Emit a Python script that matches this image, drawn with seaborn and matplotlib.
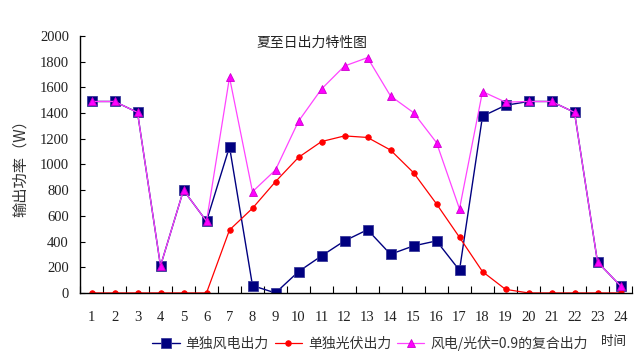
import matplotlib
matplotlib.use("Agg")
import matplotlib.pyplot as plt
import seaborn as sns
import pandas as pd
import numpy as np
from matplotlib.ticker import FixedLocator, NullFormatter

hours = list(range(1, 25))
wind = [1490, 1490, 1405, 210, 800, 558, 1138, 57, 0, 166, 288, 405, 492, 301, 366, 405, 176, 1375, 1460, 1490, 1490, 1405, 241, 55]
solar = [0, 0, 0, 0, 0, 0, 490, 659, 866, 1055, 1178, 1222, 1210, 1112, 936, 693, 433, 166, 28, 0, 0, 0, 0, 0]
combined = [1490, 1490, 1405, 210, 800, 558, 1678, 788, 957, 1336, 1587, 1766, 1831, 1533, 1403, 1170, 654, 1567, 1485, 1490, 1490, 1405, 241, 55]
names = ["单独风电出力", "单独光伏出力", "风电/光伏=0.9的复合出力"]
title = "夏至日出力特性图"
ylabel = "输出功率（W）"
xlabel = "时间"

sns.set_theme(style="white")
plt.rcParams['font.family'] = ['Noto Sans CJK SC', 'DejaVu Sans']

fig = plt.figure(figsize=(6.4, 3.63), dpi=100)
ax = fig.add_axes([0.125, 0.193, 0.8625, 0.708])

df = pd.DataFrame({"hour": hours * 3,
                   "value": wind + solar + combined,
                   "series": [names[0]] * 24 + [names[1]] * 24 + [names[2]] * 24})

styles = [
    dict(color="#000080", marker="s", ms=6.5, mfc="#000080", mec="#3a3a9a", lw=1.0),
    dict(color="#FF0000", marker="o", ms=4, mfc="#FF0000", mec="#FF0000", lw=0.9),
    dict(color="#FF44FF", marker="^", ms=5.5, mfc="#FF00FF", mec="#CC00CC", lw=0.9),
]
for name, st in zip(names, styles):
    sub = df[df["series"] == name]
    sns.lineplot(data=sub, x="hour", y="value", ax=ax, label=name,
                 color=st["color"], marker=st["marker"], markersize=st["ms"],
                 markerfacecolor=st["mfc"], markeredgecolor=st["mec"],
                 markeredgewidth=0.6, linewidth=st["lw"])

ax.set_xlim(0.5, 24.5)
ax.set_ylim(0, 2000)
ax.set_yticks(np.arange(0, 2001, 200))
ax.set_xticks(hours)
ax.set_xticklabels([str(h) for h in hours], family="Liberation Serif", fontsize=10.5)
for lab in ax.get_yticklabels():
    lab.set_family("Liberation Serif")
    lab.set_fontsize(10.5)
ax.xaxis.set_minor_locator(FixedLocator(np.arange(0.5, 25, 1)))
ax.xaxis.set_minor_formatter(NullFormatter())
ax.tick_params(axis="x", which="major", length=0, pad=13, colors="#222222")
ax.tick_params(axis="x", which="minor", length=5, width=0.8, direction="in", bottom=True, color="black")
ax.tick_params(axis="y", which="major", length=3.5, width=0.8, direction="in", left=True, color="black", pad=8, colors="#222222")
for s in ["top", "right"]:
    ax.spines[s].set_visible(False)
for s in ["left", "bottom"]:
    ax.spines[s].set_color("black")
    ax.spines[s].set_linewidth(1.0)
ax.set_xlabel("")
ax.set_ylabel(ylabel, fontsize=11, color="#333333", labelpad=8)
ax.text(0.42, 0.975, title, transform=ax.transAxes, ha="center", va="center", fontsize=10, color="#222222")

handles, labels = ax.get_legend_handles_labels()
ax.get_legend().remove()
fig.legend(handles, labels, loc="center", bbox_to_anchor=(0.578, 0.055), ncol=3, frameon=False,
           fontsize=10, handlelength=2.0, handletextpad=0.4, columnspacing=0.4, labelcolor="#333333")
fig.text(0.958, 0.058, xlabel, ha="center", va="center", fontsize=9, color="#222222")

fig.savefig("out.png", dpi=100)
